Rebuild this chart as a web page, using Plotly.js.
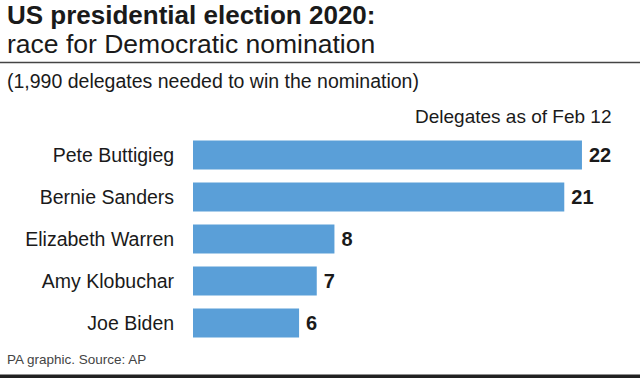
<!DOCTYPE html>
<html><head><meta charset="utf-8">
<script src="https://cdn.plot.ly/plotly-3.0.1.min.js"></script>
<style>html,body{margin:0;padding:0;background:#fff}#chart{width:640px;height:378px}</style>
</head><body><div id="chart"></div>
<script>
const candidates = ["Pete Buttigieg","Bernie Sanders","Elizabeth Warren","Amy Klobuchar","Joe Biden"];
const delegates = [22,21,8,7,6];
const titleLine1 = "US presidential election 2020:";
const titleLine2 = "race for Democratic nomination";
const subtitle = "(1,990 delegates needed to win the nomination)";
const axisNote = "Delegates as of Feb 12";
const source = "PA graphic. Source: AP";

const W=640,H=378,L=193,R=5,T=134,B=34;
const pw=W-L-R, ph=H-T-B;
const px=x=>(x-L)/pw;
const py=y=>(H-B-y)/ph;
const FONT='"Liberation Sans", Arial, sans-serif';
const ink='#1a1a1a';

const trace={
  type:'bar', orientation:'h',
  y:candidates, x:delegates,
  marker:{color:'#5a9fd8'},
  text:delegates.map(v=>'\u2009'+v), textposition:'outside',
  textfont:{family:FONT,size:20,color:ink,weight:'bold'},
  cliponaxis:false, hoverinfo:'none'
};
const layout={
  width:W,height:H,margin:{l:L,r:R,t:T,b:B},
  paper_bgcolor:'#fff',plot_bgcolor:'#fff',
  showlegend:false,bargap:0.31,
  font:{family:FONT,color:ink},
  xaxis:{range:[0,25],visible:false,fixedrange:true},
  yaxis:{autorange:'reversed',showgrid:false,zeroline:false,showline:false,
    ticks:'outside',ticklen:14,tickcolor:'rgba(0,0,0,0)',
    tickfont:{family:FONT,size:19.5,color:ink},automargin:false},
  annotations:[
    {text:'<b>'+titleLine1+'</b>',xref:'paper',yref:'paper',x:px(5),y:py(-2),xanchor:'left',yanchor:'top',showarrow:false,font:{family:FONT,size:26,color:ink}},
    {text:titleLine2,xref:'paper',yref:'paper',x:px(5),y:py(27),xanchor:'left',yanchor:'top',showarrow:false,font:{family:FONT,size:26.5,color:ink}},
    {text:subtitle,xref:'paper',yref:'paper',x:px(5),y:py(68),xanchor:'left',yanchor:'top',showarrow:false,font:{family:FONT,size:19.5,color:ink}},
    {text:axisNote,xref:'paper',yref:'paper',x:px(613),y:py(104),xanchor:'right',yanchor:'top',showarrow:false,font:{family:FONT,size:19,color:ink}},
    {text:source,xref:'paper',yref:'paper',x:px(5),y:py(350),xanchor:'left',yanchor:'top',showarrow:false,font:{family:FONT,size:13.5,color:'#444'}}
  ],
  shapes:[
    {type:'line',xref:'paper',yref:'paper',x0:px(0),x1:px(640),y0:py(62.5),y1:py(62.5),line:{color:'#444',width:1.6}},
    {type:'rect',xref:'paper',yref:'paper',x0:px(0),x1:px(640),y0:py(374.5),y1:py(378),fillcolor:'#222',line:{width:0}}
  ]
};
Plotly.newPlot('chart',[trace],layout,{staticPlot:true,displayModeBar:false});
</script></body></html>
